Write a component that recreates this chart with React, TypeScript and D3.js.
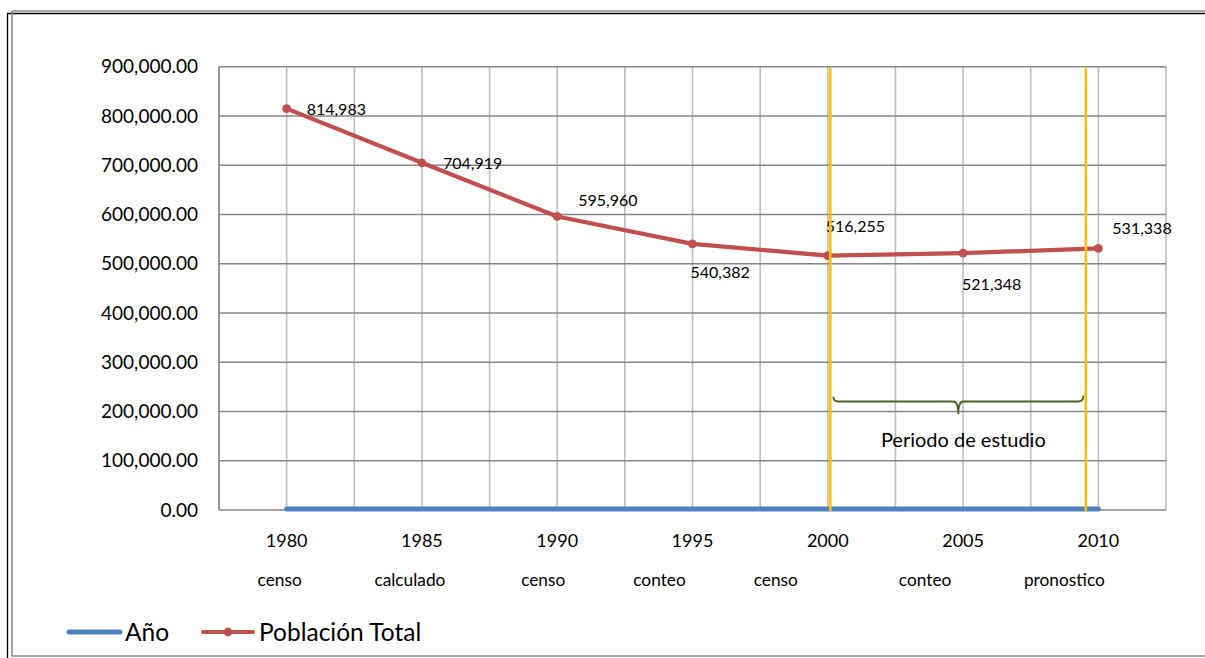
import React from "react";
import * as d3 from "d3";

const categories = ["1980", "1985", "1990", "1995", "2000", "2005", "2010"];
const anoValues = [1980, 1985, 1990, 1995, 2000, 2005, 2010];
const poblacionValues = [814983, 704919, 595960, 540382, 516255, 521348, 531338];
const yTicks = [0, 100000, 200000, 300000, 400000, 500000, 600000, 700000, 800000, 900000];
const subLabels = ["censo", "calculado", "censo", "conteo", "censo", "conteo", "pronostico"];
const seriesNames = ["Año", "Población Total"];
const annotationText = "Periodo de estudio";
const studyStart = "2000";
const studyEnd = "2010";

// layout / style (not data)
const subLabelDx = [-7, -12, -14, -33, -52, -38, -34];
const dataLabelOffsets: [number, number, string][] = [
  [20, 1, "start"],
  [21, 0, "start"],
  [21, -16, "start"],
  [-2, 28, "start"],
  [-2, -30, "start"],
  [-1, 31, "start"],
  [14, -20, "start"],
];

const W = 1205;
const H = 658;
const plot = { left: 219, right: 1166, top: 66.7, bottom: 510 };
const FONT = "Lato, 'Open Sans', sans-serif";
const RED = "#c0504d";
const BLUE = "#4f81bd";
const YELLOW = "#ffc000";
const HGRID = "#878787";
const VGRID = "#bdbdbd";

export default function App() {
  const x = d3.scaleBand<string>().domain(categories).range([plot.left, plot.right]).padding(0);
  const bw = x.bandwidth();
  const cx = (c: string) => (x(c) as number) + bw / 2;
  const y = d3.scaleLinear().domain([0, 900000]).range([plot.bottom, plot.top]);
  const fmtY = d3.format(",.2f");
  const fmtL = d3.format(",");

  const vLines: number[] = [];
  categories.forEach((c) => {
    vLines.push(x(c) as number);
    vLines.push(cx(c));
  });
  vLines.push(plot.right);

  const line = d3
    .line<number>()
    .x((_, i) => cx(categories[i]))
    .y((v) => y(v));

  const yStartX = cx(studyStart) + 2.5;
  const yEndX = cx(studyEnd) - 12.5;

  const bL = yStartX + 3;
  const bR = yEndX - 2.5;
  const bM = (bL + bR) / 2;
  const bTop = y(250000) + 10;
  const bMid = y(200000) - 10;
  const bTip = y(200000) + 2.5;
  const bracePath = `M${bL},${bTop} Q${bL},${bMid} ${bL + 5},${bMid} L${bM - 5},${bMid} Q${bM},${bMid} ${bM},${bTip} Q${bM},${bMid} ${bM + 5},${bMid} L${bR - 5},${bMid} Q${bR},${bMid} ${bR},${bTop - 1}`;

  return (
    <svg
      width={W}
      height={H}
      style={{ position: "absolute", left: 0, top: 0, background: "#fff" }}
      fontFamily={FONT}
    >
      <rect x={0} y={0} width={W} height={H} fill="#fff" />
      {/* frame */}
      <path d={`M7.5,${H + 2} L7.5,13.5 L${W + 2},13.5`} fill="none" stroke="#000" strokeWidth={1.3} />
      <path d={`M${W + 2},11 L12,11 L12,656 L${W + 2},656`} fill="none" stroke="#8a8a8a" strokeWidth={1.6} />

      {/* vertical gridlines */}
      {vLines.map((v, i) => (
        <line key={"v" + i} x1={v} x2={v} y1={plot.top} y2={plot.bottom} stroke={VGRID} strokeWidth={1.6} />
      ))}
      {/* horizontal gridlines */}
      {yTicks.map((t) => (
        <line key={"h" + t} x1={plot.left} x2={plot.right} y1={y(t)} y2={y(t)} stroke={HGRID} strokeWidth={1.6} />
      ))}
      {/* y axis line */}
      <line x1={plot.left} x2={plot.left} y1={plot.top} y2={plot.bottom} stroke={HGRID} strokeWidth={1.6} />

      {/* y labels */}
      {yTicks.map((t) => (
        <text key={"yl" + t} x={198} y={y(t) + 6.7} textAnchor="end" fontSize={19} fill="#000">
          {fmtY(t)}
        </text>
      ))}

      {/* x labels */}
      {categories.map((c) => (
        <text key={"xl" + c} x={cx(c)} y={547} textAnchor="middle" fontSize={18} fill="#000">
          {c}
        </text>
      ))}
      {subLabels.map((s, i) => (
        <text key={"sl" + i} x={cx(categories[i]) + subLabelDx[i]} y={586} textAnchor="middle" fontSize={17.3} fill="#000">
          {s}
        </text>
      ))}

      {/* Año series */}
      <path d={line(anoValues) as string} fill="none" stroke={BLUE} strokeWidth={5} strokeLinecap="round" />

      {/* Población series */}
      <path d={line(poblacionValues) as string} fill="none" stroke={RED} strokeWidth={4.2} strokeLinejoin="round" />
      {poblacionValues.map((v, i) => (
        <circle key={"m" + i} cx={cx(categories[i])} cy={y(v)} r={4.4} fill={RED} />
      ))}
      {poblacionValues.map((v, i) => (
        <text
          key={"dl" + i}
          x={cx(categories[i]) + dataLabelOffsets[i][0]}
          y={y(v) + dataLabelOffsets[i][1] + 5.8}
          textAnchor={dataLabelOffsets[i][2] as any}
          fontSize={16}
          fill="#000"
        >
          {fmtL(v)}
        </text>
      ))}

      {/* study period lines */}
      <line x1={yStartX} x2={yStartX} y1={plot.top + 1} y2={plot.bottom + 1} stroke={YELLOW} strokeWidth={2.6} />
      <line x1={yEndX} x2={yEndX} y1={plot.top + 1} y2={plot.bottom + 1} stroke={YELLOW} strokeWidth={2.6} />

      {/* brace */}
      <path d={bracePath} fill="none" stroke="#4f6228" strokeWidth={1.8} />
      <text x={bM + 5} y={446.5} textAnchor="middle" fontSize={20} fill="#000">
        {annotationText}
      </text>

      {/* legend */}
      <line x1={69} x2={120} y1={632} y2={632} stroke={BLUE} strokeWidth={5} strokeLinecap="round" />
      <text x={125} y={640.5} fontSize={24.5} fill="#000">
        {seriesNames[0]}
      </text>
      <line x1={203} x2={253} y1={632} y2={632} stroke={RED} strokeWidth={4} strokeLinecap="round" />
      <circle cx={228} cy={632} r={4.4} fill={RED} />
      <text x={259} y={640.5} fontSize={24.5} fill="#000">
        {seriesNames[1]}
      </text>
    </svg>
  );
}
